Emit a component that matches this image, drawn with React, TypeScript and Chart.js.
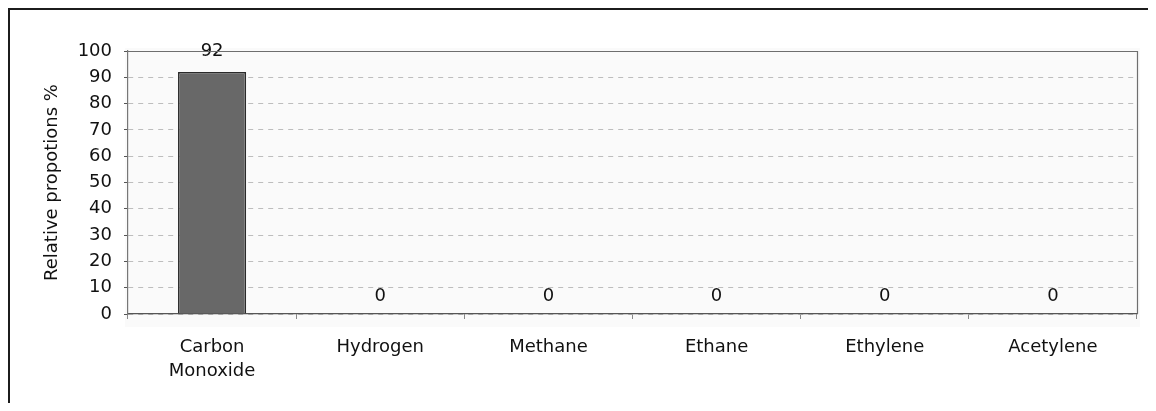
import React, { useEffect, useRef } from "react";
import { Chart, registerables } from "chart.js";

Chart.register(...registerables);

const categories: (string | string[])[] = [
  ["Carbon", "Monoxide"],
  "Hydrogen",
  "Methane",
  "Ethane",
  "Ethylene",
  "Acetylene",
];
const values: number[] = [92, 0, 0, 0, 0, 0];
const yMin = 0;
const yMax = 100;
const yStep = 10;
const yTitle = "Relative propotions %";

const FONT = "'DejaVu Sans', 'Liberation Sans', Arial, sans-serif";

const plotDecor = {
  id: "plotDecor",
  beforeDraw(chart: any) {
    const { ctx, chartArea: a } = chart;
    ctx.save();
    ctx.fillStyle = "#fafafa";
    ctx.fillRect(a.left - 3, a.top - 3, a.right - a.left + 6, a.bottom - a.top + 16);
    ctx.restore();
  },
  afterDraw(chart: any) {
    const { ctx, chartArea: a } = chart;
    ctx.save();
    ctx.strokeStyle = "#6e6e6e";
    ctx.lineWidth = 1.2;
    ctx.beginPath();
    ctx.moveTo(a.left, a.top + 0.5);
    ctx.lineTo(a.right + 0.5, a.top + 0.5);
    ctx.lineTo(a.right + 0.5, a.bottom);
    ctx.stroke();
    ctx.restore();
  },
};

const valueLabels = {
  id: "valueLabels",
  afterDatasetsDraw(chart: any) {
    const { ctx } = chart;
    const meta = chart.getDatasetMeta(0);
    const data = chart.data.datasets[0].data as number[];
    ctx.save();
    ctx.font = `18px ${FONT}`;
    ctx.fillStyle = "#111";
    ctx.textAlign = "center";
    ctx.textBaseline = "middle";
    meta.data.forEach((bar: any, i: number) => {
      ctx.fillText(String(data[i]), bar.x, bar.y - (data[i] > 0 ? 21 : 18));
    });
    ctx.restore();
  },
};

export default function App() {
  const ref = useRef<HTMLCanvasElement | null>(null);

  useEffect(() => {
    if (!ref.current) return;
    const chart = new Chart(ref.current, {
      type: "bar",
      data: {
        labels: categories,
        datasets: [
          {
            data: values,
            backgroundColor: "#686868",
            borderColor: "#2a2a2a",
            borderWidth: 1.5,
            barPercentage: 0.405,
            categoryPercentage: 1,
          },
        ],
      },
      options: {
        responsive: false,
        animation: false,
        layout: { padding: { top: 41, right: 19, bottom: 0, left: 0 } },
        plugins: {
          legend: { display: false },
          tooltip: { enabled: false },
        },
        scales: {
          x: {
            afterFit(scale: any) {
              scale.height = 89;
            },
            grid: {
              display: true,
              drawOnChartArea: false,
              drawTicks: true,
              tickLength: 5,
              tickColor: "#888",
              offset: true,
            },
            border: { display: true, color: "#555", width: 1.2 },
            ticks: {
              color: "#111",
              font: { family: FONT, size: 18, lineHeight: 1.35 },
              padding: 16,
              maxRotation: 0,
              autoSkip: false,
            },
          },
          y: {
            min: yMin,
            max: yMax,
            afterFit(scale: any) {
              scale.width = 118;
            },
            grid: {
              color: "#bdbdbd",
              lineWidth: 1,
              tickLength: 4,
              tickColor: "#555",
              tickBorderDash: [],
            },
            border: { display: true, color: "#777", width: 1.2, dash: [5, 5] },
            ticks: {
              stepSize: yStep,
              autoSkip: false,
              color: "#111",
              font: { family: FONT, size: 18 },
              padding: 12,
            },
            title: {
              display: true,
              text: yTitle,
              color: "#111",
              font: { family: FONT, size: 18 },
              padding: { top: 32, bottom: 0 },
            },
          },
        },
      },
      plugins: [plotDecor, valueLabels],
    });
    return () => chart.destroy();
  }, []);

  return (
    <div
      style={{
        width: 1148,
        height: 395,
        boxSizing: "border-box",
        borderTop: "2px solid #1c1c1c",
        borderLeft: "2px solid #1c1c1c",
        position: "relative",
        background: "#fff",
      }}
    >
      <canvas ref={ref} width={1146} height={393} style={{ display: "block" }} />
    </div>
  );
}
